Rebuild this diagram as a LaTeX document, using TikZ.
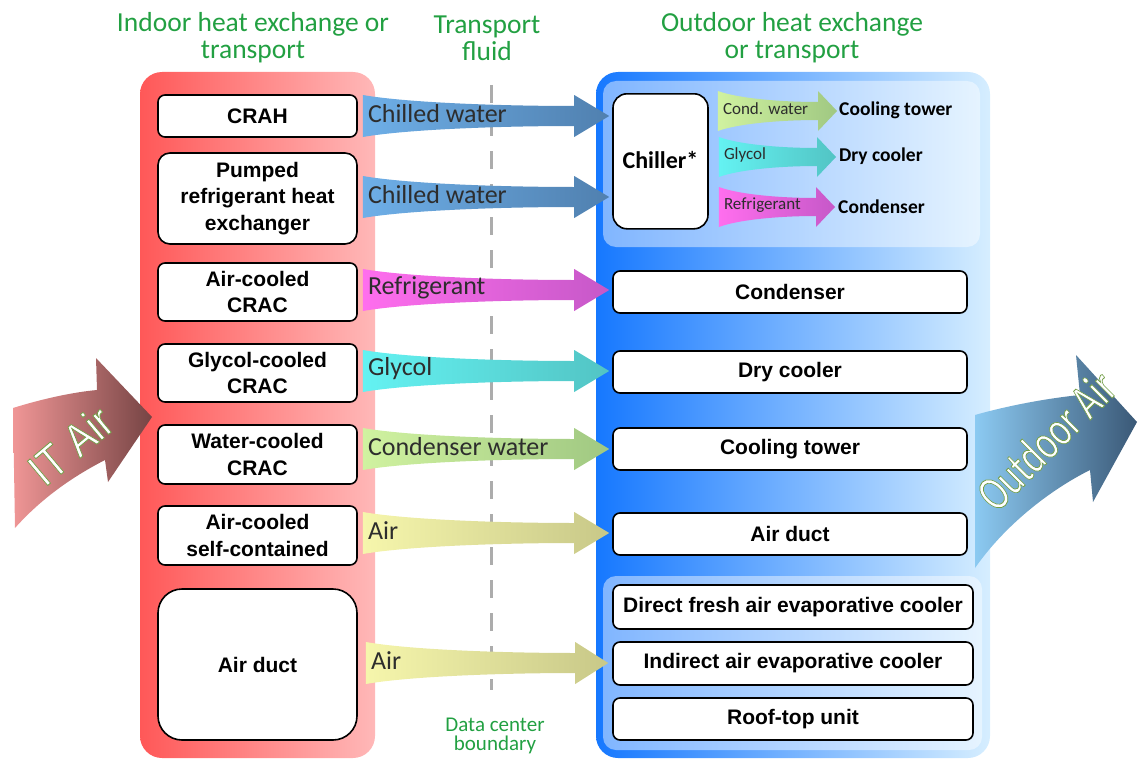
\documentclass[tikz,border=0pt]{standalone}
\usepackage{fontspec}
\setmainfont{Liberation Sans}
\newfontfamily\calfont{Carlito}
\usetikzlibrary{calc}
\definecolor{redL}{RGB}{255,88,88}
\definecolor{redR}{RGB}{255,184,184}
\definecolor{bluL}{RGB}{22,120,255}
\definecolor{bluR}{RGB}{214,238,255}
\definecolor{cwL}{RGB}{110,175,232}
\definecolor{cwR}{RGB}{80,128,175}
\definecolor{refL}{RGB}{255,110,238}
\definecolor{refR}{RGB}{198,88,200}
\definecolor{glyL}{RGB}{100,242,242}
\definecolor{glyR}{RGB}{82,196,196}
\definecolor{conL}{RGB}{208,242,160}
\definecolor{conR}{RGB}{160,200,130}
\definecolor{airL}{RGB}{246,246,172}
\definecolor{airR}{RGB}{200,200,136}
\definecolor{itL}{RGB}{240,150,150}
\definecolor{itR}{RGB}{118,68,68}
\definecolor{odL}{RGB}{140,202,242}
\definecolor{odR}{RGB}{58,88,118}
\definecolor{ttlgreen}{RGB}{34,160,66}
\definecolor{dashgray}{RGB}{172,172,172}
\definecolor{labgray}{RGB}{45,45,45}
\newcommand\outlinedtext[1]{\special{pdf:literal direct 2 Tr 0.8 w 0.45 0.62 0.28 RG}#1\special{pdf:literal direct 0 Tr}}
% #1 style, #2 tail point, #3 tip point, #4 half height, #5 half body, #6 head length, #7 label, #8 label name
\newcommand\fatarrow[8]{%
  \path[#1] let \p1=#2, \p2=#3 in
    (\x1,{\y1+#4}) .. controls ({\x1+(\x2-\x1)*0.18},{\y1+#5+(#4-#5)*0.3}) and ({\x2-#6-(\x2-\x1)*0.3},{\y1+#5}) .. ({\x2-#6},{\y1+#5})
    -- ({\x2-#6},{\y1+#4}) -- (\x2,\y1) -- ({\x2-#6},{\y1-#4}) -- ({\x2-#6},{\y1-#5})
    .. controls ({\x2-#6-(\x2-\x1)*0.3},{\y1-#5}) and ({\x1+(\x2-\x1)*0.18},{\y1-#5-(#4-#5)*0.3}) .. (\x1,{\y1-#4}) -- cycle
    ({\x1+5pt},{\y1+2pt}) node[lab,anchor=west] (#8) {#7};}
\begin{document}
\begin{tikzpicture}[x=1pt,y=-1pt,
  box/.style={draw=black,line width=1.6pt,rounded corners=7pt,fill=white,align=center,
    inner sep=0pt,font=\bfseries\fontsize{21}{26.5}\selectfont},
  ttl/.style={text=ttlgreen,font=\calfont\fontsize{27.5}{27}\selectfont,align=center},
  biglab/.style={lab/.style={text=labgray,font=\calfont\fontsize{26}{26}\selectfont,inner sep=0pt}},
  smalllab/.style={lab/.style={text=labgray,font=\calfont\fontsize{17}{17}\selectfont,inner sep=0pt}},
  sublab/.style={font=\calfont\bfseries\fontsize{19.5}{20}\selectfont,inner sep=0pt,anchor=west},
]
\useasboundingbox (0,0) rectangle (1138,760);
% titles
\node[ttl] (t1) at (253,38) {Indoor heat exchange or\\transport};
\node[ttl] (t2) at (487,38) {Transport\\fluid};
\node[ttl] (t3) at (792,38) {Outdoor heat exchange\\or transport};
\node[text=ttlgreen,font=\calfont\fontsize{21}{19.5}\selectfont,align=center] (dcb) at (495,736) {Data center\\boundary};
% panels
\path[left color=redL,right color=redR,rounded corners=22pt] (140,72) rectangle (375,758);
\path[left color=bluL,right color=bluR,rounded corners=22pt] (596,72) rectangle (990,758);
\path[fill=white,fill opacity=0.45,rounded corners=13pt] (603,81) rectangle (980,247);
\path[fill=white,fill opacity=0.45,rounded corners=13pt] (603,576) rectangle (982,750);
% boundary
\draw[dashgray,line width=3pt,dash pattern=on 18pt off 15pt] (491,85) -- (491,690);
% left boxes
\node[box,minimum width=199pt,minimum height=42pt] (crah) at (257.5,116) {CRAH};
\node[box,minimum width=199pt,minimum height=91pt,rounded corners=12pt] (pumped) at (257.5,198.5) {Pumped\\refrigerant heat\\exchanger};
\node[box,minimum width=199pt,minimum height=58pt] (aircrac) at (257.5,292) {Air-cooled\\CRAC};
\node[box,minimum width=199pt,minimum height=58pt] (glycrac) at (257.5,373) {Glycol-cooled\\CRAC};
\node[box,minimum width=199pt,minimum height=59pt] (watcrac) at (257.5,454.5) {Water-cooled\\CRAC};
\node[box,minimum width=199pt,minimum height=59pt] (selfc) at (257.5,535.5) {Air-cooled\\self-contained};
\node[box,minimum width=199pt,minimum height=151pt,rounded corners=24pt] (lduct) at (257.5,664.5) {Air duct};
% right boxes
\node[box,minimum width=95pt,minimum height=135pt,rounded corners=14pt,anchor=north] (chiller) at (660.5,93) {};
\node[font=\calfont\bfseries\fontsize{24}{24}\selectfont,inner sep=0pt] (chilab) at (660.5,160) {Chiller*};
\node[box,minimum width=354pt,minimum height=42pt] (cond) at (790,292) {Condenser};
\node[box,minimum width=354pt,minimum height=42pt] (dry) at (790,372) {Dry cooler};
\node[box,minimum width=354pt,minimum height=42pt] (tower) at (790,449) {Cooling tower};
\node[box,minimum width=354pt,minimum height=42pt] (rduct) at (790,534) {Air duct};
\node[box,minimum width=360pt,minimum height=44pt] (direct) at (793,607) {Direct fresh air evaporative cooler};
\node[box,minimum width=360pt,minimum height=43pt] (indirect) at (793,663.5) {Indirect air evaporative cooler};
\node[box,minimum width=360pt,minimum height=42pt] (roof) at (793,719) {Roof-top unit};
% chiller outputs
\node[sublab] (stw) at (839,110) {Cooling tower};
\node[sublab] (sdc) at (839,156) {Dry cooler};
\node[sublab] (scd) at (838,207) {Condenser};
% fluid arrows
\begin{scope}[biglab]
\fatarrow{left color=cwL,right color=cwR}{($(crah.east)+(5,0)$)}{($(chiller.west|-crah.east)+(-3,0)$)}{21}{10}{35}{Chilled water}{f1}
\fatarrow{left color=cwL,right color=cwR}{($(pumped.east)+(5,-1.5)$)}{($(chiller.west|-pumped.east)+(-3,0)$)}{21}{10}{35}{Chilled water}{f2}
\fatarrow{left color=refL,right color=refR}{($(aircrac.east)+(5,-2)$)}{($(cond.west)+(-3,0)$)}{21}{10}{35}{Refrigerant}{f3}
\fatarrow{left color=glyL,right color=glyR}{($(glycrac.east)+(5,-2)$)}{($(dry.west)+(-3,0)$)}{21}{10}{35}{Glycol}{f4}
\fatarrow{left color=conL,right color=conR}{($(watcrac.east)+(5,-5.5)$)}{($(tower.west)+(-3,0)$)}{21}{10}{35}{Condenser water}{f5}
\fatarrow{left color=airL,right color=airR}{($(selfc.east)+(5,-2.5)$)}{($(rduct.west)+(-3,0)$)}{21}{10}{35}{Air}{f6}
\fatarrow{left color=airL,right color=airR}{($(lduct.east)+(8,-1.5)$)}{($(indirect.west)+(-4,0)$)}{21}{10}{33}{Air}{f7}
\end{scope}
\begin{scope}[smalllab]
\fatarrow{left color=conL,right color=conR}{($(chiller.east|-stw.west)+(9,1)$)}{($(stw.west)+(-2,0)$)}{20}{9}{19}{Cond. water}{s1}
\fatarrow{left color=glyL,right color=glyR}{($(chiller.east|-sdc.west)+(10,1)$)}{($(sdc.west)+(-3,0)$)}{20}{9}{19}{Glycol}{s2}
\fatarrow{left color=refL,right color=refR}{($(chiller.east|-scd.west)+(10,0)$)}{($(scd.west)+(-3,0)$)}{20}{9}{19}{Refrigerant}{s3}
\end{scope}
% IT Air arrow
\path[left color=itL,right color=itR]
  (13,408) .. controls (45,398) and (75,392) .. (97,390) -- (96,358) -- (152,417) -- (108,482) -- (105,460)
  .. controls (70,478) and (40,500) .. (15,528) -- cycle;
\node[text=white,rotate=40,xscale=0.85,font=\fontsize{46}{46}\selectfont,inner sep=0pt] (itair) at (70,445) {\outlinedtext{IT Air}};
% Outdoor Air arrow
\path[left color=odL,right color=odR]
  (975,415) .. controls (1010,405) and (1050,398) .. (1080,395) -- (1076,355) -- (1137,422) -- (1093,502) -- (1090,470)
  .. controls (1050,490) and (1005,525) .. (975,568) -- cycle;
\node[text=white,rotate=45,xscale=0.72,font=\calfont\fontsize{50}{50}\selectfont,inner sep=0pt] (odair) at (1046,440) {\outlinedtext{Outdoor Air}};
\end{tikzpicture}
\end{document}
